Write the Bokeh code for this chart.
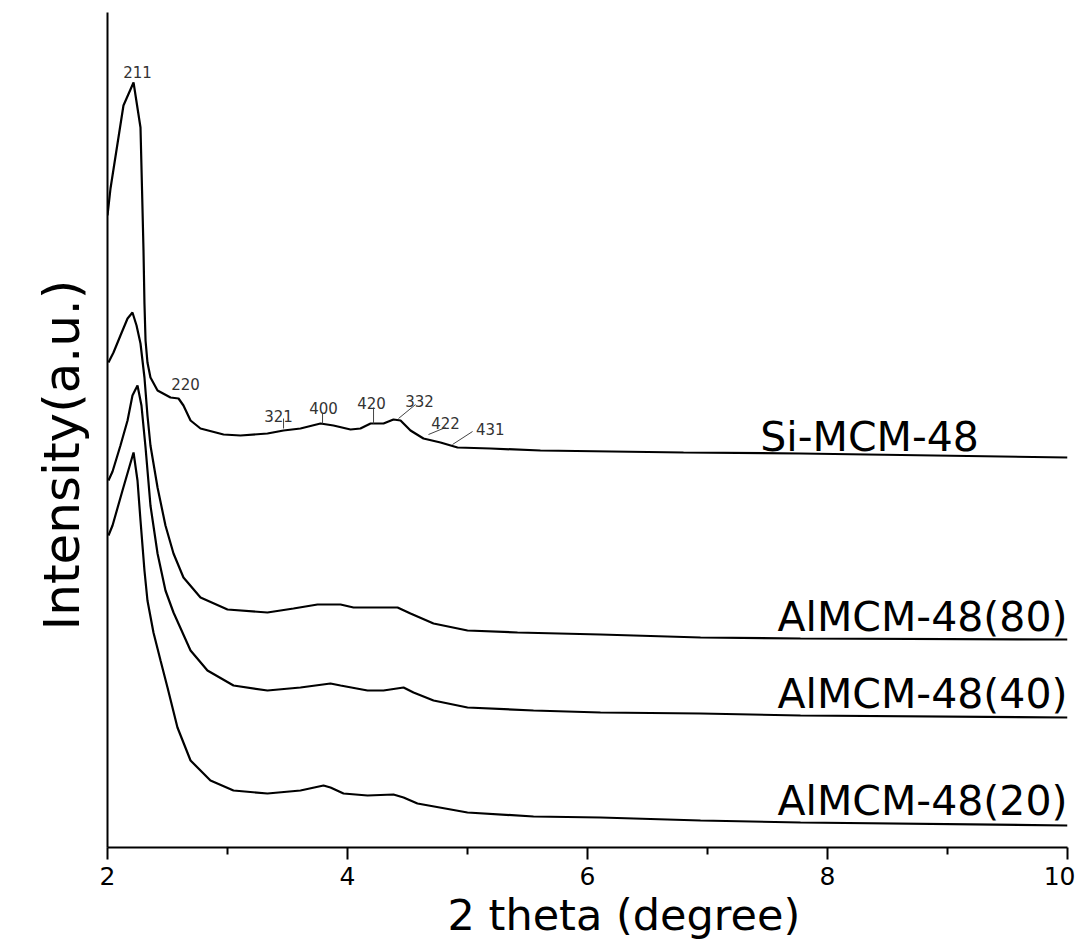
from bokeh.plotting import figure
from bokeh.models import Range1d, FixedTicker, ColumnDataSource, Title
from bokeh.core.properties import value
from bokeh.embed import file_html
from bokeh.resources import INLINE

# ---------------- data ----------------
si_x = [2.000, 2.025, 2.133, 2.217, 2.275, 2.288, 2.300, 2.308, 2.317, 2.333, 2.358, 2.417,
        2.525, 2.592, 2.633, 2.692, 2.775, 2.967, 3.108, 3.333, 3.467, 3.608, 3.775, 3.883,
        4.025, 4.108, 4.192, 4.300, 4.383, 4.442, 4.525, 4.633, 4.775, 4.917, 5.192, 5.608,
        6.800, 7.775, 10.0]
si_y = [633, 660, 743, 766, 721, 658, 598, 545, 508, 486, 471, 458,
        451, 450, 443, 428, 420, 414, 413, 415, 418, 420, 425, 423,
        419, 420, 425, 425, 429, 428, 418, 410, 406, 401, 400, 398,
        396, 395, 391]

al80_x = [2.008, 2.050, 2.108, 2.167, 2.208, 2.242, 2.275, 2.308, 2.333, 2.358, 2.417, 2.483,
          2.550, 2.633, 2.775, 3.000, 3.333, 3.550, 3.750, 3.942, 4.050, 4.217, 4.417, 4.525,
          4.717, 5.000, 5.417, 6.108, 6.942, 7.775, 10.0]
al80_y = [486, 496, 513, 530, 536, 523, 505, 471, 433, 403, 361, 323,
          295, 271, 251, 239, 236, 240, 244, 244, 241, 241, 241, 235,
          225, 218, 216, 214, 211, 210, 209]

al40_x = [2.008, 2.042, 2.108, 2.167, 2.208, 2.250, 2.283, 2.317, 2.358, 2.417, 2.483, 2.550,
          2.692, 2.833, 3.050, 3.333, 3.608, 3.858, 3.942, 4.167, 4.300, 4.467, 4.550, 4.717,
          5.000, 5.550, 6.108, 6.942, 7.775, 10.0]
al40_y = [368, 377, 403, 428, 453, 463, 443, 401, 343, 295, 258, 236,
          198, 178, 163, 158, 161, 165, 163, 158, 158, 161, 156, 148,
          141, 138, 136, 135, 133, 131]

al20_x = [2.008, 2.042, 2.125, 2.217, 2.250, 2.275, 2.308, 2.333, 2.383, 2.442, 2.500, 2.583,
          2.692, 2.858, 3.050, 3.333, 3.608, 3.800, 3.858, 3.967, 4.167, 4.383, 4.467, 4.583,
          5.000, 5.550, 6.108, 6.942, 7.775, 10.0]
al20_y = [313, 323, 358, 396, 368, 328, 278, 248, 216, 188, 161, 121,
          88, 68, 58, 55, 58, 63, 61, 55, 53, 54, 51, 45,
          36, 32, 31, 28, 26, 23]

series_names = ["Si-MCM-48", "AlMCM-48(80)", "AlMCM-48(40)", "AlMCM-48(20)"]
name_x = [7.44, 10.0, 10.0, 10.0]
name_y = [412, 232, 155, 48]

hkl_labels = ["211", "220", "321", "400", "420", "332", "422", "431"]
hkl_x = [2.25, 2.65, 3.425, 3.80, 4.20, 4.60, 4.817, 5.19]
hkl_y = [777, 465, 433, 441, 446, 448, 426, 420]

lead_x0 = [3.467, 3.792, 4.217, 4.425, 4.675, 4.875]
lead_y0 = [420, 425, 425, 430, 414, 404]
lead_x1 = [3.467, 3.792, 4.217, 4.567, 4.817, 5.042]
lead_y1 = [430, 435, 441, 444, 421, 417]

x_ticks = [2, 4, 6, 8, 10]
x_minor = [3, 5, 7, 9]

FONT = "DejaVu Sans"

# ---------------- figure ----------------
p = figure(frame_width=960, frame_height=835,
           x_range=Range1d(2, 10), y_range=Range1d(1, 836),
           output_backend="svg", toolbar_location=None,
           min_border_left=107, min_border_top=12, min_border_right=8, min_border_bottom=0)
p.outline_line_color = None
p.grid.visible = False
p.background_fill_color = "white"
p.border_fill_color = "white"

for xs, ys in [(si_x, si_y), (al80_x, al80_y), (al40_x, al40_y), (al20_x, al20_y)]:
    p.line(xs, ys, line_color="black", line_width=2.2)

p.segment(x0=lead_x0, y0=lead_y0, x1=lead_x1, y1=lead_y1, line_color="#444444", line_width=1)

src_hkl = ColumnDataSource(dict(x=hkl_x, y=hkl_y, t=hkl_labels))
p.text(x="x", y="y", text="t", source=src_hkl, text_font=value(FONT), text_font_size="15px",
       text_align="center", text_baseline="middle", text_color="#333333")

p.text(x=[name_x[0]], y=[name_y[0]], text=[series_names[0]], text_font=value(FONT),
       text_font_size="41px", text_align="left", text_baseline="middle", text_color="black")
p.text(x=name_x[1:], y=name_y[1:], text=series_names[1:], text_font=value(FONT),
       text_font_size="41px", text_align="right", text_baseline="middle", text_color="black")

# x axis
xa = p.xaxis[0]
xa.ticker = FixedTicker(ticks=x_ticks, minor_ticks=x_minor)
xa.axis_line_width = 2
xa.axis_line_color = "black"
xa.major_tick_out = 12
xa.major_tick_in = 0
xa.minor_tick_out = 7
xa.minor_tick_in = 0
xa.major_tick_line_width = 2
xa.minor_tick_line_width = 2
xa.major_label_text_font = FONT
xa.major_label_text_font_size = "25px"
xa.major_label_text_color = "black"
xa.major_label_standoff = 7

# y axis
ya = p.yaxis[0]
ya.ticker = FixedTicker(ticks=[])
ya.axis_line_width = 2
ya.axis_line_color = "black"
ya.major_tick_line_color = None
ya.minor_tick_line_color = None
ya.major_tick_out = 0
ya.major_tick_in = 0
ya.minor_tick_out = 0
ya.major_label_standoff = 0

xt = Title(text="2 theta (degree)", align="left", offset=340, standoff=0,
           text_font=FONT, text_font_size="43px", text_font_style="normal", text_color="black")
p.add_layout(xt, "below")

yt = Title(text="Intensity(a.u.)", align="left", offset=217, standoff=34,
           text_font=FONT, text_font_size="50px", text_font_style="normal", text_color="black")
p.add_layout(yt, "left")

open("out.html", "w").write(file_html(p, INLINE))
